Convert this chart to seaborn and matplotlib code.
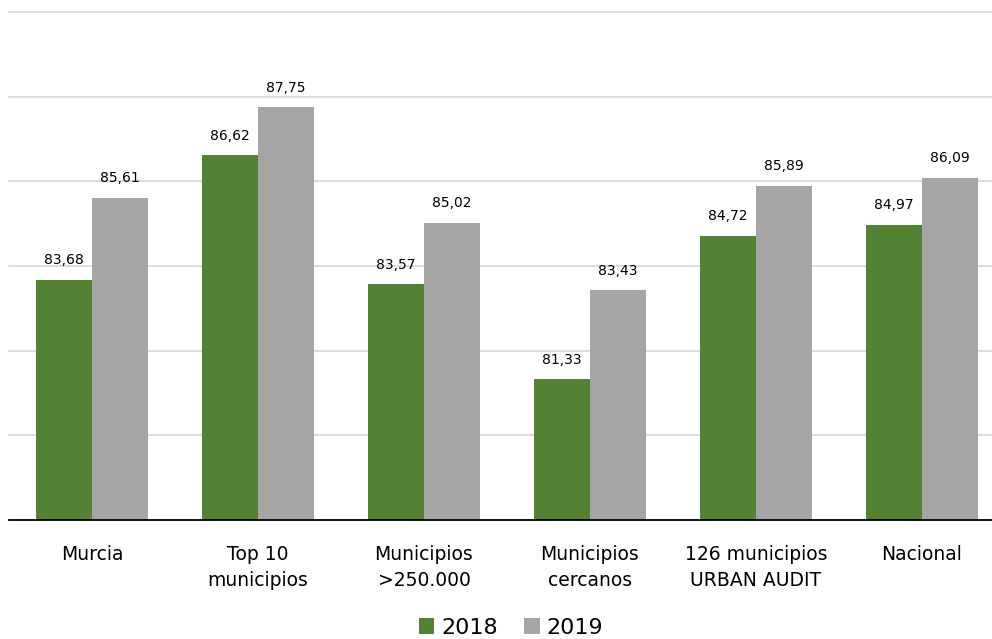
import pandas as pd
import matplotlib.pyplot as plt
import seaborn as sns

# Data
categories = ["Murcia", "Top 10\nmunicipios", "Municipios\n>250.000",
              "Municipios\ncercanos", "126 municipios\nURBAN AUDIT", "Nacional"]
values_2018 = [83.68, 86.62, 83.57, 81.33, 84.72, 84.97]
values_2019 = [85.61, 87.75, 85.02, 83.43, 85.89, 86.09]
years = ["2018", "2019"]

df = pd.DataFrame({
    "cat": categories * 2,
    "year": [years[0]] * len(categories) + [years[1]] * len(categories),
    "value": values_2018 + values_2019,
})

sns.set_style("white")
plt.rcParams['font.family'] = ['DejaVu Sans']
plt.rcParams['text.color'] = 'black'
plt.rcParams['xtick.color'] = 'black'

fig = plt.figure(figsize=(9.92, 6.39), dpi=100)
ax = fig.add_axes([9 / 992, 119 / 639, 996 / 992, 508 / 639])

sns.barplot(data=df, x="cat", y="value", hue="year", ax=ax,
            palette=["#548235", "#A5A5A5"], width=0.68, saturation=1,
            edgecolor="none", legend=True)

ax.set_ylim(78, 90)
ax.set_yticks([80, 82, 84, 86, 88, 90])
ax.yaxis.grid(True, color="#D9D9D9", linewidth=1.3, clip_on=False)
ax.set_axisbelow(True)
ax.set_yticklabels([])
ax.tick_params(axis="y", length=0)
ax.tick_params(axis="x", length=0, pad=18, labelsize=13.5, labelcolor="black")
for lbl in ax.get_xticklabels():
    lbl.set_linespacing(1.5)
ax.set_xlabel("")
ax.set_ylabel("")
for s in ["top", "right", "left"]:
    ax.spines[s].set_visible(False)
ax.spines["bottom"].set_color("black")
ax.spines["bottom"].set_linewidth(1.3)

for cont in ax.containers:
    ax.bar_label(cont, labels=[f"{v:.2f}".replace(".", ",") for v in cont.datavalues],
                 padding=9, fontsize=10, color="black")

handles, labels = ax.get_legend_handles_labels()
ax.get_legend().remove()
fig.legend(handles, labels, loc="center", bbox_to_anchor=(0.515, 11 / 639),
           ncol=2, frameon=False, fontsize=16, handlelength=0.7, handleheight=0.7,
           handletextpad=0.3, columnspacing=1.2, labelcolor="black")

fig.savefig("out.png", dpi=100)
